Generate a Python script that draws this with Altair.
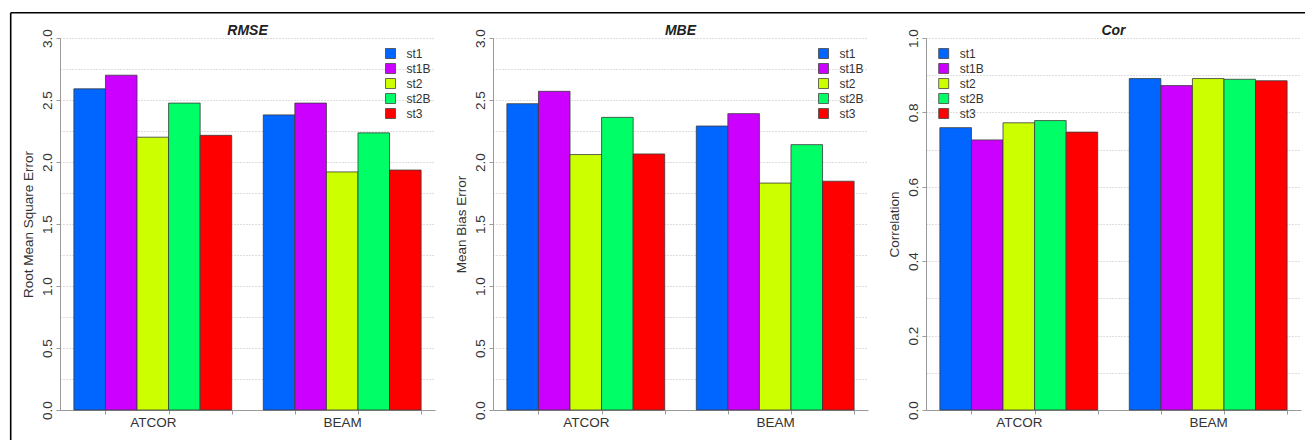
import altair as alt
import pandas as pd

# ---------------- data ----------------
groups = ["ATCOR", "BEAM"]
series = ["st1", "st1B", "st2", "st2B", "st3"]
colors = ["#0066FF", "#CC00FF", "#CCFF00", "#00FF66", "#FF0000"]

rmse_atcor = [2.59, 2.70, 2.20, 2.475, 2.215]
rmse_beam = [2.38, 2.475, 1.92, 2.235, 1.935]
mbe_atcor = [2.47, 2.57, 2.06, 2.36, 2.065]
mbe_beam = [2.29, 2.39, 1.83, 2.14, 1.845]
cor_atcor = [0.759, 0.726, 0.772, 0.778, 0.747]
cor_beam = [0.891, 0.872, 0.891, 0.889, 0.885]

titles = ["RMSE", "MBE", "Cor"]
ytitles = ["Root Mean Square Error", "Mean Bias Error", "Correlation"]
ymax = [3.0, 3.0, 1.0]
grid_step = [0.25, 0.25, 0.1]
label_step = [0.5, 0.5, 0.2]
legend_side = ["right", "right", "left"]

panels = [
    [rmse_atcor, rmse_beam],
    [mbe_atcor, mbe_beam],
    [cor_atcor, cor_beam],
]

# ---------------- layout ----------------
W, H = 375, 372
FONT = "Liberation Sans"
AX_GRAY = "#9a9a9a"
TXT = "#333333"

n_per = len(series) + 1               # bar slots per group (1 space + bars)
x_lo = 1
x_hi = len(groups) * n_per
ext = 0.04 * (x_hi - x_lo)
x_domain = [x_lo - ext, x_hi + ext]
x_ticks = list(range(2, x_hi + 1, 2))
centers = [1 + g * n_per + len(series) / 2 for g in range(len(groups))]

label_expr_x = " : ".join(
    f"datum.value == {c} ? '{g}'" for c, g in zip(centers, groups)
) + " : ''"
hide_center = " || ".join(f"datum.value == {c}" for c in centers)


def make_panel(k):
    rows = []
    for g, vals in enumerate(panels[k]):
        for i, v in enumerate(vals):
            x0 = 1 + g * n_per + i
            rows.append({"group": groups[g], "series": series[i],
                         "value": v, "x0": x0, "x1": x0 + 1})
    df = pd.DataFrame(rows)

    step = grid_step[k]
    nstep = int(round(ymax[k] / step))
    yvals = [round(j * step, 4) for j in range(nstep + 1)]
    ls = label_step[k]
    is_lab = f"abs(datum.value / {ls} - round(datum.value / {ls})) < 1e-6"

    xaxis = alt.Axis(
        values=sorted(x_ticks + centers),
        labelExpr=label_expr_x,
        tickOpacity={"condition": {"test": hide_center, "value": 0}, "value": 1},
        grid=False, domainColor=AX_GRAY, tickColor=AX_GRAY, tickSize=4,
        labelColor=TXT, labelFontSize=13.5, labelPadding=1,
        labelOverlap=False, labelFlush=False, title=None,
    )
    yaxis = alt.Axis(
        values=yvals,
        labelExpr=f"{is_lab} ? format(datum.value, '.1f') : ''",
        tickOpacity={"condition": {"test": is_lab, "value": 1}, "value": 0},
        grid=True, gridDash=[1, 2], gridColor="#bdbdbd", gridWidth=1,
        domainColor=AX_GRAY, tickColor=AX_GRAY, tickSize=4,
        labelAngle=270, labelAlign="center", labelBaseline="alphabetic",
        labelPadding=5, labelColor=TXT, labelFontSize=13.5,
        labelOverlap=False, labelFlush=False,
        title=ytitles[k], titleAngle=270, titleX=-27.3, titleY=H / 2,
        titleAlign="center", titleBaseline="alphabetic",
        titleFontSize=13.5, titleFontWeight="normal", titleColor=TXT,
    )
    if legend_side[k] == "right":
        lx = 324.5
    else:
        lx = 11.7
    legend = alt.Legend(
        orient="none", legendX=lx, legendY=9.5, title=None,
        symbolType="square", symbolSize=100, symbolStrokeColor="#444444",
        symbolStrokeWidth=0.8, labelFontSize=12, labelColor=TXT,
        labelOffset=10, rowPadding=1, padding=0,
    )

    bars = alt.Chart(df).mark_rect(stroke="#3a3a3a", strokeWidth=0.8).encode(
        x=alt.X("x0:Q", scale=alt.Scale(domain=x_domain, nice=False, zero=False),
                axis=xaxis),
        x2="x1:Q",
        y=alt.Y("value:Q", scale=alt.Scale(domain=[0, ymax[k]], nice=False),
                axis=yaxis),
        y2=alt.datum(0),
        color=alt.Color("series:N", scale=alt.Scale(domain=series, range=colors),
                        legend=legend, sort=series),
    )
    ttl = alt.Chart(pd.DataFrame({"t": [titles[k]]})).mark_text(
        fontSize=14, fontWeight="bold", fontStyle="italic", color="#222222",
        align="center", baseline="alphabetic", font=FONT,
    ).encode(text="t:N", x=alt.value(W / 2), y=alt.value(-2.7))
    layers = [bars, ttl]
    if k == 0:
        one = pd.DataFrame({"k": [0]})
        top = alt.Chart(one).mark_rule(color="#000000", strokeWidth=1.6).encode(
            x=alt.value(-49.3), x2=alt.value(1245), y=alt.value(-25.2))
        left = alt.Chart(one).mark_rule(color="#000000", strokeWidth=1.6).encode(
            x=alt.value(-49.3), y=alt.value(-25.2), y2=alt.value(402))
        layers += [top, left]
    return alt.layer(*layers).properties(width=W, height=H)


chart = alt.hconcat(
    *[make_panel(k) for k in range(3)], spacing=58, bounds="flush"
).resolve_scale(color="independent", x="independent", y="independent"
).resolve_legend(color="independent").properties(
    padding={"left": 1, "top": 4, "right": 0, "bottom": 0}
).configure(font=FONT).configure_view(stroke=None)

chart.save("out.html", embed_options={"renderer": "svg", "actions": False})
